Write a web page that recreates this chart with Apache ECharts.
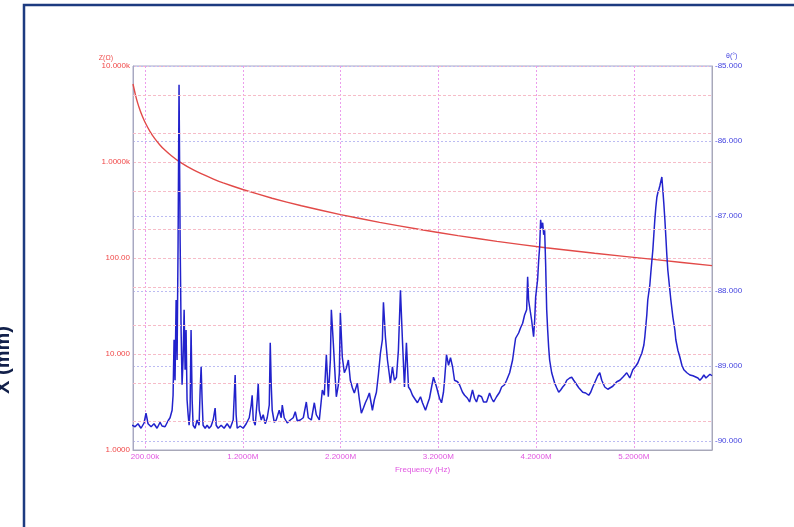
<!DOCTYPE html>
<html><head><meta charset="utf-8">
<script src="https://cdn.jsdelivr.net/npm/echarts@6/dist/echarts.min.js"></script>
<style>html,body{margin:0;padding:0;background:#fff;overflow:hidden}#c{width:794px;height:527px}</style>
</head><body><div id="c"></div>
<script>
// Phase (theta, degrees) vs frequency (MHz) — blue trace, right axis
const phaseFreq = [
0.067,0.098,0.128,0.159,0.190,0.210,0.231,0.262,0.292,0.323,
0.354,0.374,0.405,0.436,0.456,0.477,0.487,0.497,0.507,0.518,
0.528,0.538,0.548,0.559,0.569,0.579,0.589,0.600,0.610,0.620,
0.630,0.641,0.651,0.661,0.671,0.682,0.692,0.712,0.733,0.753,
0.764,0.774,0.784,0.794,0.815,0.835,0.856,0.876,0.897,0.917,
0.928,0.948,0.979,1.009,1.040,1.071,1.102,1.122,1.132,1.143,
1.173,1.204,1.235,1.266,1.286,1.296,1.307,1.327,1.348,1.358,
1.368,1.389,1.409,1.430,1.450,1.471,1.481,1.491,1.501,1.522,
1.542,1.573,1.593,1.604,1.624,1.655,1.686,1.716,1.737,1.757,
1.788,1.819,1.850,1.870,1.901,1.932,1.952,1.983,2.014,2.034,
2.055,2.075,2.096,2.106,2.126,2.147,2.157,2.178,2.188,2.198,
2.218,2.239,2.259,2.280,2.300,2.321,2.341,2.372,2.393,2.413,
2.434,2.454,2.475,2.495,2.526,2.546,2.567,2.587,2.608,2.628,
2.639,2.659,2.680,2.700,2.710,2.731,2.751,2.772,2.792,2.813,
2.833,2.854,2.874,2.895,2.915,2.936,2.966,2.987,3.018,3.038,
3.069,3.089,3.110,3.130,3.151,3.182,3.212,3.233,3.253,3.264,
3.284,3.305,3.325,3.346,3.366,3.397,3.417,3.448,3.469,3.499,
3.520,3.550,3.571,3.591,3.612,3.643,3.663,3.694,3.725,3.745,
3.766,3.796,3.827,3.848,3.878,3.899,3.930,3.960,3.981,3.991,
4.022,4.042,4.063,4.083,4.104,4.114,4.124,4.134,4.155,4.175,
4.186,4.196,4.216,4.227,4.237,4.247,4.257,4.268,4.278,4.288,
4.298,4.309,4.319,4.329,4.339,4.360,4.391,4.411,4.432,4.452,
4.473,4.493,4.514,4.544,4.565,4.585,4.606,4.637,4.678,4.708,
4.739,4.759,4.780,4.811,4.831,4.852,4.872,4.903,4.934,4.954,
4.985,5.026,5.057,5.087,5.108,5.128,5.159,5.190,5.221,5.241,
5.262,5.282,5.303,5.313,5.333,5.343,5.364,5.374,5.384,5.395,
5.405,5.415,5.425,5.436,5.446,5.456,5.466,5.477,5.487,5.497,
5.507,5.518,5.528,5.538,5.548,5.569,5.579,5.600,5.620,5.630,
5.651,5.671,5.692,5.712,5.743,5.774,5.805,5.825,5.856,5.876,
5.897,5.917,5.938,5.958,5.979,5.999
];
const phaseDeg = [
-89.79,-89.81,-89.77,-89.83,-89.76,-89.63,-89.77,-89.81,-89.77,-89.83,
-89.75,-89.80,-89.81,-89.73,-89.69,-89.59,-89.39,-88.65,-89.19,-88.12,
-88.92,-87.39,-85.25,-87.32,-88.52,-89.25,-88.92,-88.25,-89.05,-88.52,
-89.45,-89.65,-89.79,-89.59,-88.52,-89.45,-89.79,-89.83,-89.72,-89.79,
-89.32,-89.01,-89.45,-89.79,-89.83,-89.79,-89.83,-89.80,-89.72,-89.56,
-89.79,-89.83,-89.79,-89.83,-89.77,-89.83,-89.72,-89.12,-89.65,-89.83,
-89.80,-89.83,-89.77,-89.69,-89.52,-89.39,-89.72,-89.79,-89.45,-89.23,
-89.59,-89.72,-89.65,-89.77,-89.69,-89.52,-88.69,-89.25,-89.59,-89.75,
-89.72,-89.59,-89.69,-89.52,-89.69,-89.76,-89.72,-89.69,-89.61,-89.73,
-89.72,-89.69,-89.48,-89.69,-89.72,-89.49,-89.65,-89.72,-89.32,-89.39,
-88.85,-89.41,-88.92,-88.25,-88.69,-89.19,-89.41,-89.25,-89.09,-88.29,
-88.88,-89.09,-89.03,-88.92,-89.19,-89.29,-89.36,-89.23,-89.45,-89.63,
-89.56,-89.49,-89.43,-89.36,-89.59,-89.45,-89.35,-89.12,-88.83,-88.65,
-88.15,-88.61,-88.92,-89.12,-89.23,-89.01,-89.19,-89.15,-88.79,-87.99,
-88.65,-89.28,-88.69,-89.28,-89.32,-89.39,-89.45,-89.49,-89.41,-89.49,
-89.59,-89.51,-89.43,-89.29,-89.15,-89.28,-89.43,-89.49,-89.35,-89.19,
-88.85,-88.99,-88.89,-89.01,-89.19,-89.21,-89.25,-89.35,-89.39,-89.43,
-89.48,-89.32,-89.43,-89.48,-89.39,-89.41,-89.48,-89.48,-89.36,-89.43,
-89.48,-89.41,-89.35,-89.28,-89.25,-89.19,-89.09,-88.92,-88.72,-88.63,
-88.56,-88.49,-88.43,-88.32,-88.25,-87.81,-88.12,-88.21,-88.39,-88.61,
-88.39,-88.08,-87.85,-87.59,-87.41,-87.05,-87.16,-87.09,-87.25,-87.19,
-87.63,-88.25,-88.52,-88.75,-88.92,-89.09,-89.23,-89.29,-89.35,-89.32,
-89.28,-89.25,-89.19,-89.16,-89.15,-89.19,-89.23,-89.29,-89.35,-89.36,
-89.39,-89.35,-89.28,-89.19,-89.13,-89.09,-89.19,-89.28,-89.31,-89.29,
-89.27,-89.21,-89.19,-89.15,-89.12,-89.09,-89.16,-89.05,-89.00,-88.96,
-88.89,-88.83,-88.72,-88.61,-88.32,-88.12,-87.92,-87.76,-87.61,-87.45,
-87.25,-87.05,-86.89,-86.75,-86.69,-86.65,-86.60,-86.61,-86.48,-86.65,
-86.83,-87.05,-87.28,-87.52,-87.72,-87.99,-88.12,-88.35,-88.52,-88.65,
-88.79,-88.88,-88.99,-89.05,-89.09,-89.12,-89.13,-89.12,-89.16,-89.19,
-89.16,-89.12,-89.16,-89.15,-89.11,-89.13
];
// Impedance |Z| (ohm) vs frequency (MHz) — red trace, left log axis
const impFreq = [0.077,0.1,0.125,0.15,0.175,0.2,0.25,0.3,0.35,0.4,0.47,0.55,0.7,0.9,1.0,1.2,1.5,1.8,2.2,2.6,3.0,3.4,3.8,4.3,4.8,5.4,6.0];
const impOhm  = [6494,5100,4104,3440,2960,2595,2088,1750,1514,1338,1160,1009,821,664,605,517,419,350,283,235,199,171,149,128,112,96.7,83.3];

// Tick values
const freqTicks = [0.2,1.2,2.2,3.2,4.2,5.2];
const impMinor = [2,5,20,50,200,500,2000,5000];
const phaseTicks = [-90,-89,-88,-87,-86,-85];

const FONT = 'Liberation Sans, Arial, sans-serif';
function fmtFreq(v){ return v < 1 ? (v*1000).toPrecision(5)+'k' : v.toPrecision(5)+'M'; }
function fmtImp(v){ return v >= 1000 ? (v/1000).toPrecision(5)+'k' : v.toPrecision(5); }

const chart = echarts.init(document.getElementById('c'), null, {renderer:'canvas'});
chart.setOption({
  animation:false,
  backgroundColor:'#ffffff',
  grid:{left:133, right:82, top:66, bottom:77, show:true, borderColor:'#a8aac8', borderWidth:1, containLabel:false, outerBoundsMode:'none'},
  graphic:[
    {type:'rect', z:-10, shape:{x:24, y:5, width:800, height:600}, style:{fill:'none', stroke:'#1d3b80', lineWidth:2.5}},
    {type:'text', x:3, y:360, rotation:Math.PI/2, style:{text:'X (mm)', font:'bold 20px '+FONT, fill:'#12204a', textAlign:'center', textVerticalAlign:'middle', align:'center', verticalAlign:'middle'}}
  ],
  xAxis:{
    type:'value', min:0.077, max:6.0,
    name:'Frequency (Hz)', nameLocation:'middle', nameGap:16,
    nameTextStyle:{color:'#e055e0', fontSize:8, fontFamily:FONT},
    axisLine:{show:true, lineStyle:{color:'#a8a8b8'}},
    axisTick:{show:false, customValues:freqTicks},
    axisLabel:{customValues:freqTicks, formatter:fmtFreq, color:'#e055e0', fontSize:8, fontFamily:FONT, margin:3},
    splitLine:{show:true, lineStyle:{color:'#ec9cec', type:[2,2], width:1}}
  },
  yAxis:[
    {type:'log', logBase:10, min:1, max:10000, position:'left',
     name:'Z(Ω)', nameLocation:'end', nameGap:4,
     nameTextStyle:{color:'#f05050', fontSize:7, fontFamily:FONT, align:'right', padding:[0,20,0,0]},
     axisLine:{show:true, lineStyle:{color:'#a8a8c0'}},
     axisTick:{show:false},
     axisLabel:{formatter:fmtImp, color:'#f04848', fontSize:8, fontFamily:FONT, margin:3, showMinLabel:true, showMaxLabel:true},
     splitLine:{show:true, lineStyle:{color:'#f6bcc8', type:[3,2], width:1}}
    },
    {type:'value', min:-90.12, max:-85, position:'right',
     name:'θ(°)', nameLocation:'end', nameGap:6,
     nameTextStyle:{color:'#4848e0', fontSize:7, fontFamily:FONT, align:'left', padding:[0,0,0,14]},
     axisLine:{show:true, lineStyle:{color:'#a8a8b8'}},
     axisTick:{show:false, customValues:phaseTicks},
     axisLabel:{customValues:phaseTicks, formatter:function(v){return v.toFixed(3);}, color:'#4444e0', fontSize:8, fontFamily:FONT, margin:3},
     splitLine:{show:true, lineStyle:{color:'#bcbcf2', type:[2,2], width:1}}
    }
  ],
  series:[
    {type:'line', name:'Z', xAxisIndex:0, yAxisIndex:0, showSymbol:false, symbol:'none', smooth:0.15,
     data: impFreq.map((f,i)=>[f, impOhm[i]]),
     lineStyle:{color:'#e24a48', width:1.4}, z:3,
     markLine:{silent:true, symbol:'none', label:{show:false}, animation:false,
       lineStyle:{color:'#f6bcc8', type:[3,2], width:1},
       data: impMinor.map(v=>({yAxis:v}))}
    },
    {type:'line', name:'θ', xAxisIndex:0, yAxisIndex:1, showSymbol:false, symbol:'none',
     data: phaseFreq.map((f,i)=>[f, phaseDeg[i]]),
     lineStyle:{color:'#2222cc', width:1.5}, z:4}
  ]
});
</script>
</body></html>
